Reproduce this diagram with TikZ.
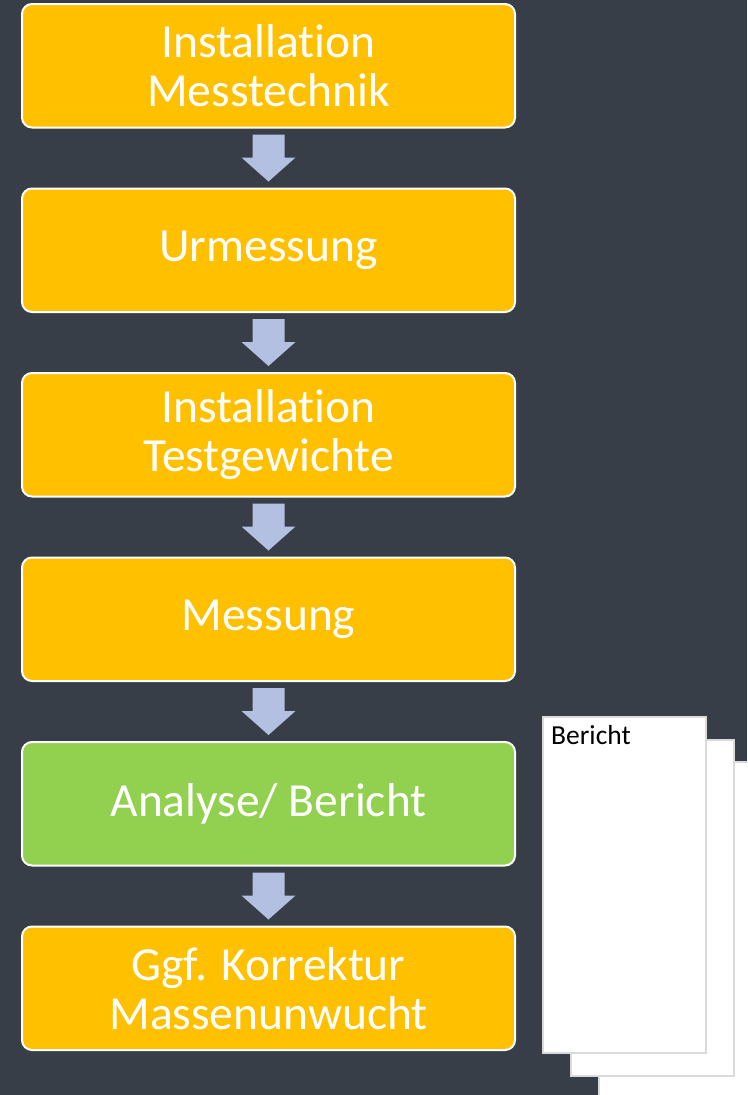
\documentclass[tikz,border=0pt]{standalone}
\usepackage{fontspec}
\setmainfont{Carlito}[Ligatures=NoCommon]
\definecolor{bgdark}{RGB}{56,62,71}
\definecolor{boxorange}{RGB}{255,192,0}
\definecolor{boxgreen}{RGB}{146,208,80}
\definecolor{arrowblue}{RGB}{180,192,226}
\definecolor{pagegray}{RGB}{218,218,218}
\usetikzlibrary{positioning}

\begin{document}
\begin{tikzpicture}[x=1pt,y=1pt,
  stepbox/.style={draw=white,line width=2pt,rounded corners=10pt,fill=boxorange,
    minimum width=493pt,minimum height=123.5pt,outer sep=0pt,inner sep=0pt,
    text=white,align=center,font=\fontsize{47.5}{49}\selectfont},
  pagebox/.style={draw=pagegray,line width=1.5pt,fill=white,anchor=north west,
    minimum width=163pt,minimum height=336pt,inner sep=0pt},
  dnarrow/.pic={\fill[arrowblue] (-16,23.5) -- (16,23.5) -- (16,0.5) -- (27,0.5)
    -- (0,-23.5) -- (-27,0.5) -- (-16,0.5) -- cycle;},
  node distance=61pt]
  % Background
  \clip (0,0) rectangle (747,-1095);
  \fill[bgdark] (0,0) rectangle (747,-1095);
  % Steps
  \node[stepbox] (install) at (268.5,-65.75) {Installation\\Messtechnik};
  \node[stepbox,below=of install] (urmess) {Urmessung};
  \node[stepbox,below=of urmess] (weights) {Installation\\Testgewichte};
  \node[stepbox,below=of weights] (mess) {Messung};
  \node[stepbox,fill=boxgreen,below=of mess] (analyse) {Analyse/ Bericht};
  \node[stepbox,below=of analyse] (korr) {Ggf. Korrektur\\Massenunwucht};
  % Arrows
  \path (install) -- (urmess) pic[midway]{dnarrow};
  \path (urmess) -- (weights) pic[midway]{dnarrow};
  \path (weights) -- (mess) pic[midway]{dnarrow};
  \path (mess) -- (analyse) pic[midway]{dnarrow};
  \path (analyse) -- (korr) pic[midway]{dnarrow};
  % Report pages
  \node[pagebox] (page3) at (598,-761) {};
  \node[pagebox] (page2) at (570,-739) {};
  \node[pagebox] (page1) at (542,-716) {};
  \node[anchor=north west,inner sep=0pt,font=\fontsize{27.5}{30}\selectfont]
    (report) at ([xshift=9pt,yshift=-9pt]page1.north west) {Bericht};
\end{tikzpicture}
\end{document}
